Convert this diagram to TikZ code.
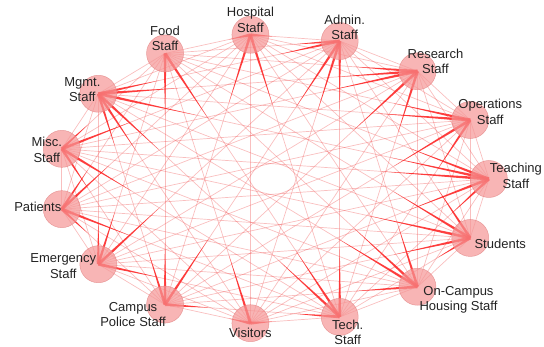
\documentclass[tikz,border=0pt]{standalone}
\usepackage{fontspec}
\setmainfont{Liberation Sans}
\usetikzlibrary{calc,backgrounds}
\definecolor{nodefill}{RGB}{245,150,150}
\definecolor{nodeline}{RGB}{225,130,130}
\definecolor{edgepink}{RGB}{240,95,95}
\definecolor{edgered}{RGB}{255,25,25}
\definecolor{labeltext}{RGB}{35,35,35}

\begin{document}
\begin{tikzpicture}[x=1pt,y=1pt]
  \tikzstyle{vert}=[circle, minimum size=37pt, inner sep=0pt, fill=nodefill, fill opacity=0.7, draw=nodeline, draw opacity=0.7, line width=0.5pt]
  \tikzstyle{lbl}=[align=center, text=labeltext, font=\fontsize{13}{15.5}\selectfont, inner sep=0pt]
  \tikzstyle{lightedge}=[draw=edgepink, draw opacity=0.4, line width=0.7pt]
  \tikzstyle{heavyedge}=[fill=edgered, fill opacity=0.8]
  \useasboundingbox (-273,-168) rectangle (271,179);
  % staff groups on an ellipse
  \node[vert] (teach)   at (0:215.9pt and 145pt)   {};
  \node[vert] (ops)     at (24:215.9pt and 145pt)  {};
  \node[vert] (res)     at (48:215.9pt and 145pt)  {};
  \node[vert] (admin)   at (72:215.9pt and 145pt)  {};
  \node[vert] (hosp)    at (96:215.9pt and 145pt)  {};
  \node[vert] (food)    at (120:215.9pt and 145pt) {};
  \node[vert] (mgmt)    at (144:215.9pt and 145pt) {};
  \node[vert] (misc)    at (168:215.9pt and 145pt) {};
  \node[vert] (pat)     at (192:215.9pt and 145pt) {};
  \node[vert] (emerg)   at (216:215.9pt and 145pt) {};
  \node[vert] (police)  at (240:215.9pt and 145pt) {};
  \node[vert] (visit)   at (264:215.9pt and 145pt) {};
  \node[vert] (tech)    at (288:215.9pt and 145pt) {};
  \node[vert] (housing) at (312:215.9pt and 145pt) {};
  \node[vert] (stud)    at (336:215.9pt and 145pt) {};
  % labels
  \node[lbl] (teachlbl)   at ([shift={(27,3)}]teach.center)    {Teaching\\Staff};
  \node[lbl] (opslbl)     at ([shift={(20,8)}]ops.center)      {Operations\\Staff};
  \node[lbl] (reslbl)     at ([shift={(18,10)}]res.center)     {Research\\Staff};
  \node[lbl] (adminlbl)   at ([shift={(5,13.5)}]admin.center)  {Admin.\\Staff};
  \node[lbl] (hosplbl)    at ([shift={(0,15)}]hosp.center)     {Hospital\\Staff};
  \node[lbl] (foodlbl)    at ([shift={(0,15)}]food.center)     {Food\\Staff};
  \node[lbl] (mgmtlbl)    at ([shift={(-16,4)}]mgmt.center)    {Mgmt.\\Staff};
  \node[lbl] (misclbl)    at ([shift={(-15,-1)}]misc.center)   {Misc.\\Staff};
  \node[lbl] (patlbl)     at ([shift={(-24,2)}]pat.center)     {Patients};
  \node[lbl] (emerglbl)   at ([shift={(-35,-2)}]emerg.center)  {Emergency\\Staff};
  \node[lbl] (policelbl)  at ([shift={(-32,-10)}]police.center) {Campus\\Police Staff};
  \node[lbl] (visitlbl)   at ([shift={(0,-10)}]visit.center)   {Visitors};
  \node[lbl] (techlbl)    at ([shift={(8,-15.5)}]tech.center)  {Tech.\\Staff};
  \node[lbl] (housinglbl) at ([shift={(41,-13)}]housing.center) {On-Campus\\Housing Staff};
  \node[lbl] (studlbl)    at ([shift={(30,-6)}]stud.center)    {Students};
  \begin{scope}[on background layer]
    % every pair
    \foreach \a [count=\i] in {teach,ops,res,admin,hosp,food,mgmt,misc,pat,emerg,police,visit,tech,housing,stud}{
      \foreach \b [count=\j] in {teach,ops,res,admin,hosp,food,mgmt,misc,pat,emerg,police,visit,tech,housing,stud}{
        \ifnum\j>\i \draw[lightedge] (\a.center) -- (\b.center); \fi
      }
    }
    % heavy contacts, tapered from the node
    \foreach \s/\t in {mgmt/admin, mgmt/res, mgmt/teach, mgmt/police, mgmt/tech, mgmt/visit,
        food/police, food/tech,
        hosp/food, hosp/admin, hosp/police, hosp/tech,
        admin/food, admin/mgmt, admin/police, admin/tech, admin/visit,
        res/food, res/mgmt, res/misc, res/police, res/tech,
        ops/food, ops/mgmt, ops/police, ops/tech,
        teach/misc, teach/mgmt, teach/police, teach/tech, teach/food,
        stud/misc, stud/food, stud/police, stud/tech, stud/admin,
        housing/police, housing/mgmt, housing/food, housing/admin,
        tech/mgmt, tech/food, tech/admin, tech/police,
        visit/police, visit/tech, visit/food,
        police/food, police/mgmt, police/admin, police/tech,
        emerg/mgmt, emerg/food, emerg/admin, emerg/tech,
        pat/food, pat/hosp, pat/tech, pat/police,
        misc/food, misc/admin, misc/police, misc/tech}
      \fill[heavyedge] ($(\s.center)!1.5pt!90:(\t.center)$) -- ($(\s.center)!0.25!(\t.center)$)
        -- ($(\s.center)!1.5pt!-90:(\t.center)$) -- cycle;
  \end{scope}
\end{tikzpicture}
\end{document}
